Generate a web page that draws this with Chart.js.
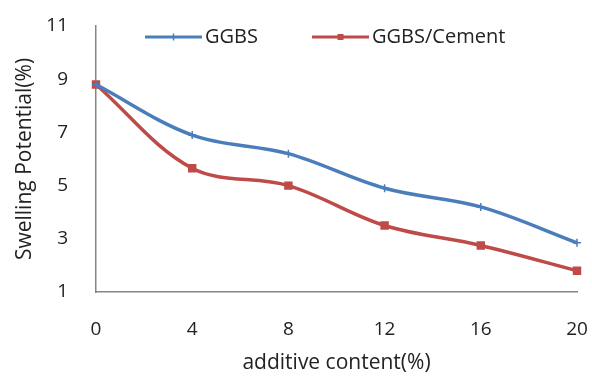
<!DOCTYPE html>
<html>
<head>
<meta charset="utf-8">
<script src="https://cdn.jsdelivr.net/npm/chart.js@4.4.0/dist/chart.umd.min.js"></script>
<style>
  html, body { margin: 0; padding: 0; background: #fff; }
  #wrap { width: 592px; height: 376px; }
</style>
</head>
<body>
<div id="wrap"><canvas id="swellChart" width="592" height="376"></canvas></div>
<script>
// additive content (%) and measured swelling potential (%)
const contents = ['0', '4', '8', '12', '16', '20'];
const ggbs = [8.8, 6.9, 6.2, 4.9, 4.2, 2.85];
const ggbsCement = [8.8, 5.65, 5.0, 3.5, 2.75, 1.8];
const yTicks = [1, 3, 5, 7, 9, 11];

const blue = '#4A7EBB';
const red = '#BE4B48';
const textColor = '#222';
const fontFamily = "'Open Sans', 'Liberation Sans', sans-serif";

// legend drawn inside the plot area, one row, line sample + label
const inlineLegend = {
    id: 'inlineLegend',
    afterDraw(chart) {
        const c = chart.ctx;
        const area = chart.chartArea;
        const y = area.top + 11;
        const starts = [area.left + 49, area.left + 216];
        c.save();
        c.font = '20px ' + fontFamily;
        c.textBaseline = 'middle';
        chart.data.datasets.forEach((ds, i) => {
            const x0 = starts[i];
            const x1 = x0 + 57;
            c.strokeStyle = ds.borderColor;
            c.lineWidth = 3;
            c.beginPath();
            c.moveTo(x0, y);
            c.lineTo(x1, y);
            c.stroke();
            // small marker in the middle of the sample
            const mx = (x0 + x1) / 2;
            c.fillStyle = ds.borderColor;
            if (ds.pointStyle === 'rect') {
                c.fillRect(mx - 3, y - 3, 6, 6);
            } else {
                c.lineWidth = 1.5;
                c.beginPath();
                c.moveTo(mx, y - 3.5);
                c.lineTo(mx, y + 3.5);
                c.stroke();
            }
            c.fillStyle = textColor;
            c.fillText(ds.label, x1 + 3, y);
        });
        c.restore();
    }
};

const ctx = document.getElementById('swellChart').getContext('2d');
new Chart(ctx, {
    type: 'line',
    data: {
        labels: contents,
        datasets: [{
            label: 'GGBS',
            data: ggbs,
            borderColor: blue,
            backgroundColor: blue,
            borderWidth: 3.5,
            tension: 0.35,
            pointStyle: 'cross',
            pointRadius: 4,
            pointBorderWidth: 1.5
        }, {
            label: 'GGBS/Cement',
            data: ggbsCement,
            borderColor: red,
            backgroundColor: red,
            borderWidth: 3.5,
            tension: 0.35,
            pointStyle: 'rect',
            pointRadius: 3.5
        }]
    },
    options: {
        responsive: false,
        animation: false,
        layout: { padding: { top: 26, right: 15, left: 0, bottom: 0 } },
        plugins: {
            legend: { display: false },
            tooltip: { enabled: false }
        },
        scales: {
            x: {
                offset: false,
                grid: { display: false, drawTicks: false },
                border: { color: '#868686', width: 1.5 },
                ticks: { color: textColor, padding: 26, font: { family: fontFamily, size: 19 } },
                title: {
                    display: true,
                    text: 'additive content(%)',
                    color: textColor,
                    font: { family: fontFamily, size: 21 },
                    padding: { top: 0, bottom: 0 }
                },
                afterFit(scale) {
                    scale.height = 84;
                    scale.paddingLeft = 0;
                    scale.paddingRight = 0;
                }
            },
            y: {
                min: 1,
                max: 11,
                afterBuildTicks(scale) { scale.ticks = yTicks.map(v => ({ value: v })); },
                ticks: { color: textColor, padding: 28, font: { family: fontFamily, size: 19 } },
                grid: { display: false, drawTicks: false },
                border: { color: '#868686', width: 1.5 },
                title: {
                    display: true,
                    text: 'Swelling Potential(%)',
                    color: textColor,
                    font: { family: fontFamily, size: 21 },
                    padding: { top: 12, bottom: 0 }
                },
                afterFit(scale) {
                    scale.width = 96;
                    scale.paddingTop = 0;
                    scale.paddingBottom = 0;
                }
            }
        }
    },
    plugins: [inlineLegend]
});
</script>
</body>
</html>
